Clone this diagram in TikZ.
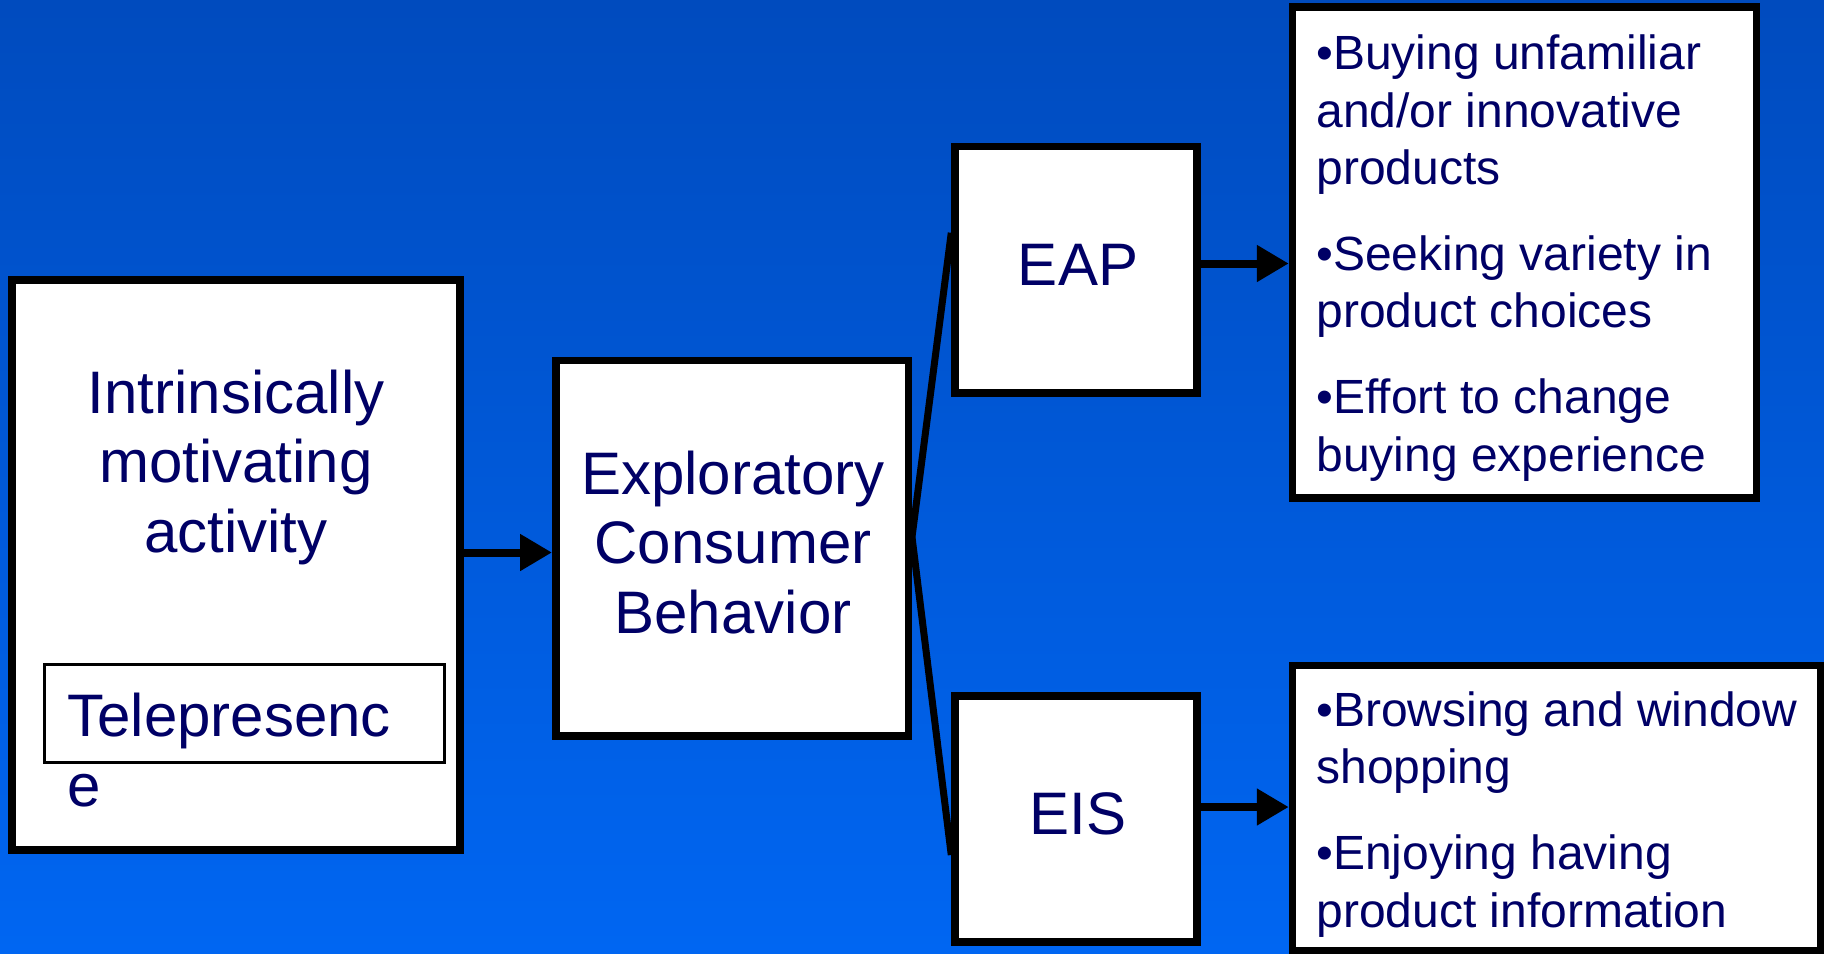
\documentclass[tikz,border=0pt]{standalone}
\usepackage{fontspec}
\setmainfont{Liberation Sans}
\usetikzlibrary{arrows.meta,calc}
\definecolor{navy}{RGB}{0,0,102}
\definecolor{bgtop}{RGB}{0,75,190}
\definecolor{bgbot}{RGB}{0,102,242}
\begin{document}
\begin{tikzpicture}[x=0.5pt,y=-0.5pt,
  box/.style={draw=black,line width=3.75pt,fill=white,inner sep=0pt},
  thinbox/.style={draw=black,line width=1.5pt,fill=white,inner sep=0pt},
  big/.style={text=navy,font=\fontsize{30}{34.75}\selectfont,inner sep=0pt},
  list/.style={text=navy,font=\fontsize{24}{28.65}\selectfont,align=left,inner sep=0pt},
  arr/.style={line width=4pt,-{Triangle[length=16pt,width=17.5pt]}},
  fan/.style={line width=3.5pt}]
\shade[top color=bgtop,bottom color=bgbot] (0,0) rectangle (1824,953);
\useasboundingbox (0,0) rectangle (1824,953);

% boxes
\node[box,minimum width=224pt,minimum height=285pt] (left) at (236,565) {};
\node[thinbox,minimum width=200pt,minimum height=49pt] (tele) at (244,713) {};
\node[box,minimum width=176.25pt,minimum height=187.7pt] (mid) at (732,548.3) {};
\node[box,minimum width=121pt,minimum height=123.2pt] (eap) at (1076,269.8) {};
\node[box,minimum width=121pt,minimum height=123.2pt] (eis) at (1076,819) {};
\node[box,minimum width=232pt,minimum height=245.5pt] (tr) at (1524.5,252.5) {};
\node[box,minimum width=264pt,minimum height=142.5pt] (br) at (1556.5,808) {};

% texts (anchor base = baseline of the last line)
\node[big,align=center,anchor=base] (lefttxt) at (236,552) {Intrinsically\\motivating\\activity};
\node[big,align=left,anchor=base west] (teletxt) at (67,806) {Telepresenc\\e};
\node[big,align=center,anchor=base] (midtxt) at (733,633) {Exploratory\\Consumer\\Behavior};
\node[big,anchor=base] (eaptxt) at (1078,285) {EAP};
\node[big,anchor=base] (eistxt) at (1078,834) {EIS};
\node[list,anchor=base west] (trtxt) at (1316,471) {•Buying unfamiliar\\and/or innovative\\products\\[14.35pt]•Seeking variety in\\product choices\\[14.35pt]•Effort to change\\buying experience};
\node[list,anchor=base west] (brtxt) at (1316,927) {•Browsing and window\\shopping\\[14.35pt]•Enjoying having\\product information};

% connectors
\coordinate (a1) at ([yshift=-2.1pt]mid.west);
\draw[arr] (left.east |- a1) -- (a1);
\coordinate (fm) at ([yshift=5.65pt]mid.east);
\coordinate (fe) at ([yshift=18.5pt]eap.west);
\coordinate (fs) at ([yshift=-18pt]eis.west);
\draw[fan] (fm) -- (fe);
\draw[fan] (fm) -- (fs);
\coordinate (a2) at ([yshift=3.15pt]eap.east);
\draw[arr] (a2) -- (tr.west |- a2);
\coordinate (a3) at ([yshift=6pt]eis.east);
\draw[arr] (a3) -- (br.west |- a3);
\end{tikzpicture}
\end{document}
